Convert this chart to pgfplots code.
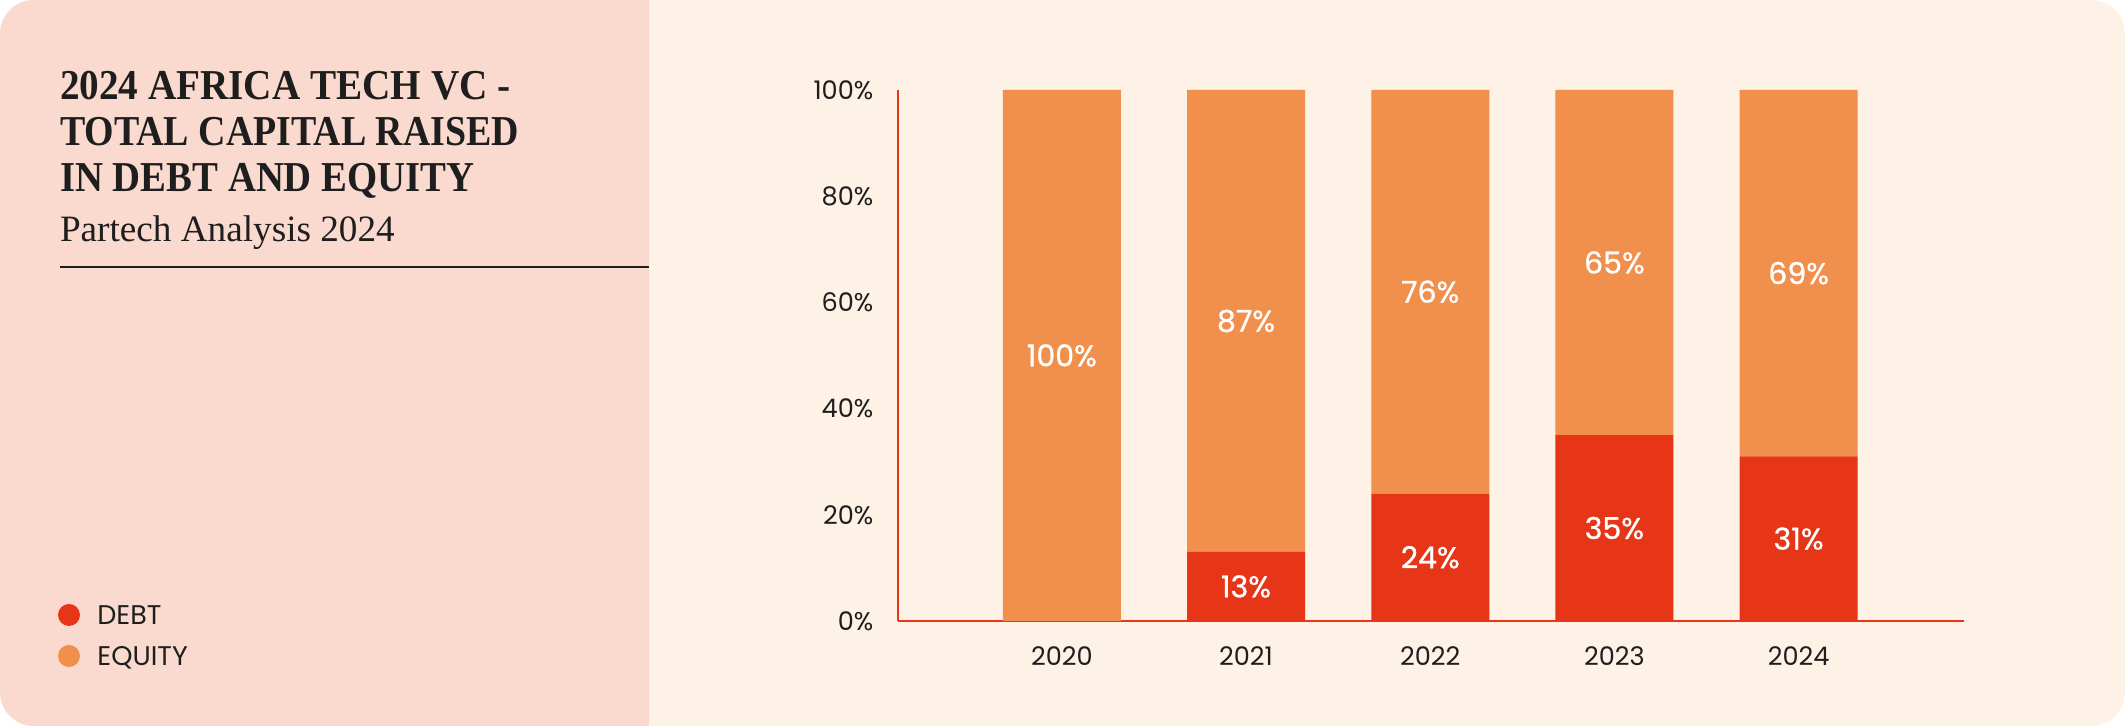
\documentclass[border=0pt]{standalone}
\usepackage{pgfplots}
\pgfplotsset{compat=1.18}
\usepackage{fontspec}
\setmainfont{Liberation Serif}
\newfontfamily\pop{Poppins}
\newfontfamily\popb{Poppins}[FakeBold=0.9]
\definecolor{pinkbg}{HTML}{FAD9CE}
\definecolor{creambg}{HTML}{FEF1E6}
\definecolor{equity}{HTML}{F1904C}
\definecolor{debt}{HTML}{E63517}
\definecolor{axisred}{HTML}{E8361A}
\definecolor{ink}{HTML}{1E1E1E}
\tikzset{barlab/.style={text=white, font=\popb\fontsize{15pt}{15pt}\selectfont}}
\begin{document}
\begin{tikzpicture}
\useasboundingbox (0,0) rectangle (1062.5pt,363pt);
\fill[white] (0,0) rectangle (1062.5pt,363pt);
\begin{scope}
\clip[rounded corners=17pt] (0,0) rectangle (1062.5pt,363pt);
\fill[creambg] (0,0) rectangle (1062.5pt,363pt);
\fill[pinkbg] (0,0) rectangle (324.5pt,363pt);
\end{scope}
% title block
\node[anchor=base west, inner sep=0pt, text=ink, font=\bfseries\fontsize{21.3pt}{21pt}\selectfont] at (29.8pt,313pt) {\scalebox{0.92}[1]{2024 AFRICA TECH VC -}};
\node[anchor=base west, inner sep=0pt, text=ink, font=\bfseries\fontsize{21.3pt}{21pt}\selectfont] at (29.8pt,290.25pt) {\scalebox{0.89}[1]{TOTAL CAPITAL RAISED}};
\node[anchor=base west, inner sep=0pt, text=ink, font=\bfseries\fontsize{21.3pt}{21pt}\selectfont] at (29.8pt,267.25pt) {\scalebox{0.91}[1]{IN DEBT AND EQUITY}};
\node[anchor=base west, inner sep=0pt, text=ink, font=\fontsize{18.6pt}{18.6pt}\selectfont] at (29.8pt,242.25pt) {Partech Analysis 2024};
\draw[ink, line width=1pt] (29.8pt,229.5pt) -- (324.5pt,229.5pt);
% legend
\fill[debt] (34.5pt,55.5pt) circle (5.5pt);
\fill[equity] (34.5pt,35pt) circle (5.5pt);
\node[anchor=base west, inner sep=0pt, text=ink, font=\pop\fontsize{13.5pt}{13.5pt}\selectfont] at (48.5pt,50.8pt) {DEBT};
\node[anchor=base west, inner sep=0pt, text=ink, font=\pop\fontsize{13.5pt}{13.5pt}\selectfont] at (48.5pt,30.3pt) {EQUITY};
\begin{axis}[
  at={(448.85pt,52.5pt)}, anchor=south west,
  scale only axis, width=532.9pt, height=265.5pt,
  ybar stacked, bar width=59pt,
  xmin=-0.891, xmax=4.895, ymin=0, ymax=100,
  axis x line*=bottom, axis y line*=left,
  axis line style={draw=axisred, line width=1pt, -},
  major tick length=0pt,
  xtick={0,1,2,3,4}, xticklabels={2020,2021,2022,2023,2024},
  ytick={0,20,40,60,80,100}, yticklabels={0\%,20\%,40\%,60\%,80\%,100\%},
  tick label style={text=ink, font=\pop\fontsize{12.8pt}{12.8pt}\selectfont, inner sep=0pt},
  yticklabel style={anchor=east, xshift=-12pt},
  xticklabel style={anchor=north, yshift=-12.5pt},
  clip=false,
]
\addplot[fill=debt, draw=none] coordinates {(0,0) (1,13) (2,24) (3,35) (4,31)};
\addplot[fill=equity, draw=none] coordinates {(0,100) (1,87) (2,76) (3,65) (4,69)};
\coordinate (e0) at (axis cs:0,50);
\coordinate (e1) at (axis cs:1,56.5);
\coordinate (d1) at (axis cs:1,6.5);
\coordinate (e2) at (axis cs:2,62);
\coordinate (d2) at (axis cs:2,12);
\coordinate (e3) at (axis cs:3,67.5);
\coordinate (d3) at (axis cs:3,17.5);
\coordinate (e4) at (axis cs:4,65.5);
\coordinate (d4) at (axis cs:4,15.5);
\end{axis}
\node[barlab] at (e0) {100\%};
\node[barlab] at (e1) {87\%};
\node[barlab] at (d1) {13\%};
\node[barlab] at (e2) {76\%};
\node[barlab] at (d2) {24\%};
\node[barlab] at (e3) {65\%};
\node[barlab] at (d3) {35\%};
\node[barlab] at (e4) {69\%};
\node[barlab] at (d4) {31\%};
\end{tikzpicture}
\end{document}
